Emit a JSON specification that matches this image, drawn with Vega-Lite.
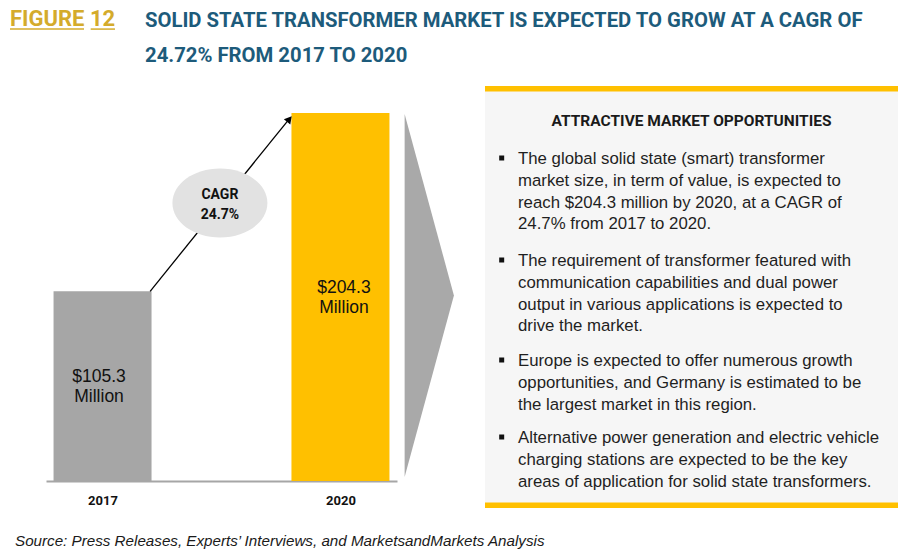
{
  "$schema": "https://vega.github.io/schema/vega-lite/v6.json",
  "width": 914,
  "height": 554,
  "autosize": {"type": "fit", "contains": "padding"},
  "padding": 0,
  "background": "#ffffff",
  "config": {"view": {"stroke": null}, "text": {"font": "Liberation Sans"}},
  "datasets": {
    "market": [
      {"year": 2017, "value": 105.3},
      {"year": 2020, "value": 204.3}
    ],
    "panel": [
      {"b": 0, "text": "ATTRACTIVE MARKET OPPORTUNITIES"},
      {"b": 1, "text": ["The global solid state (smart) transformer", "market size, in term of value, is expected to", "reach $204.3 million by 2020, at a CAGR of", "24.7% from 2017 to 2020."]},
      {"b": 2, "text": ["The requirement of transformer featured with", "communication capabilities and dual power", "output in various applications is expected to", "drive the market."]},
      {"b": 3, "text": ["Europe is expected to offer numerous growth", "opportunities, and Germany is estimated to be", "the largest market in this region."]},
      {"b": 4, "text": ["Alternative power generation and electric vehicle", "charging  stations are expected to be the key", "areas of application for solid state transformers."]}
    ]
  },
  "layer": [
    {
      "layer": [
        {
          "data": {"name": "market"},
          "mark": {"type": "bar", "width": 98},
          "encoding": {
            "x": {"field": "year", "type": "quantitative", "scale": {"domain": [2016.35, 2020.65], "range": [46, 397], "nice": false, "zero": false},
              "axis": {"title": null, "values": [2017, 2020], "format": "d", "ticks": false, "grid": false, "domainColor": "#a6a6a6", "domainWidth": 2, "labelFont": "Roboto", "labelFontWeight": "bold", "labelFontSize": 13, "labelColor": "#111111", "labelPadding": 13, "offset": -73, "labelFlush": false, "labelOverlap": false}},
            "y": {"field": "value", "type": "quantitative", "scale": {"domain": [0, 204.3], "range": [481, 113], "nice": false}, "axis": null},
            "color": {"field": "year", "type": "nominal", "scale": {"domain": [2017, 2020], "range": ["#a6a6a6", "#ffc000"]}, "legend": null}
          }
        },
        {
          "data": {"values": [{}]},
          "mark": {"type": "rule", "stroke": "#000000", "strokeWidth": 1.3},
          "encoding": {
            "x": {"datum": 2017.6, "type": "quantitative", "scale": {"domain": [2016.35, 2020.65], "range": [46, 397], "nice": false, "zero": false},
              "axis": {"title": null, "values": [2017, 2020], "format": "d", "ticks": false, "grid": false, "domainColor": "#a6a6a6", "domainWidth": 2, "labelFont": "Roboto", "labelFontWeight": "bold", "labelFontSize": 13, "labelColor": "#111111", "labelPadding": 13, "offset": -73, "labelFlush": false, "labelOverlap": false}},
            "y": {"datum": 105.3, "type": "quantitative", "scale": {"domain": [0, 204.3], "range": [481, 113], "nice": false}, "axis": null},
            "x2": {"datum": 2019.35},
            "y2": {"datum": 200.8}
          }
        },
        {
          "data": {"values": [{}]},
          "mark": {"type": "point", "shape": "triangle-up", "filled": true, "fill": "#000000", "opacity": 1, "size": 70, "angle": 40, "strokeWidth": 0},
          "encoding": {
            "x": {"datum": 2019.356, "type": "quantitative", "scale": {"domain": [2016.35, 2020.65], "range": [46, 397], "nice": false, "zero": false},
              "axis": {"title": null, "values": [2017, 2020], "format": "d", "ticks": false, "grid": false, "domainColor": "#a6a6a6", "domainWidth": 2, "labelFont": "Roboto", "labelFontWeight": "bold", "labelFontSize": 13, "labelColor": "#111111", "labelPadding": 13, "offset": -73, "labelFlush": false, "labelOverlap": false}},
            "y": {"datum": 200.9, "type": "quantitative", "scale": {"domain": [0, 204.3], "range": [481, 113], "nice": false}, "axis": null}
          }
        },
        {
          "data": {"values": [{}]},
          "mark": {"type": "point", "shape": "M 1 0 C 1 0.401 0.5523 0.726 0 0.726 C -0.5523 0.726 -1 0.401 -1 0 C -1 -0.401 -0.5523 -0.726 0 -0.726 C 0.5523 -0.726 1 -0.401 1 0 Z", "filled": true, "fill": "#e2e2e2", "opacity": 1, "size": 9025, "strokeWidth": 0},
          "encoding": {
            "x": {"datum": 2018.48, "type": "quantitative", "scale": {"domain": [2016.35, 2020.65], "range": [46, 397], "nice": false, "zero": false},
              "axis": {"title": null, "values": [2017, 2020], "format": "d", "ticks": false, "grid": false, "domainColor": "#a6a6a6", "domainWidth": 2, "labelFont": "Roboto", "labelFontWeight": "bold", "labelFontSize": 13, "labelColor": "#111111", "labelPadding": 13, "offset": -73, "labelFlush": false, "labelOverlap": false}},
            "y": {"datum": 154.3, "type": "quantitative", "scale": {"domain": [0, 204.3], "range": [481, 113], "nice": false}, "axis": null}
          }
        },
        {
          "data": {"values": [{}]},
          "mark": {"type": "text", "text": ["CAGR", "24.7%"], "align": "center", "baseline": "middle", "lineHeight": 20, "font": "Roboto", "fontWeight": "bold", "fontSize": 14, "color": "#111111"},
          "encoding": {
            "x": {"datum": 2018.48, "type": "quantitative", "scale": {"domain": [2016.35, 2020.65], "range": [46, 397], "nice": false, "zero": false},
              "axis": {"title": null, "values": [2017, 2020], "format": "d", "ticks": false, "grid": false, "domainColor": "#a6a6a6", "domainWidth": 2, "labelFont": "Roboto", "labelFontWeight": "bold", "labelFontSize": 13, "labelColor": "#111111", "labelPadding": 13, "offset": -73, "labelFlush": false, "labelOverlap": false}},
            "y": {"datum": 158.8, "type": "quantitative", "scale": {"domain": [0, 204.3], "range": [481, 113], "nice": false}, "axis": null}
          }
        },
        {
          "data": {"values": [{}]},
          "mark": {"type": "point", "shape": "M -0.1358 -1 L 0.1358 0 L -0.1358 1 Z", "filled": true, "fill": "#a9a9a9", "opacity": 1, "size": 131769, "strokeWidth": 0},
          "encoding": {
            "x": {"datum": 2021.12, "type": "quantitative", "scale": {"domain": [2016.35, 2020.65], "range": [46, 397], "nice": false, "zero": false},
              "axis": {"title": null, "values": [2017, 2020], "format": "d", "ticks": false, "grid": false, "domainColor": "#a6a6a6", "domainWidth": 2, "labelFont": "Roboto", "labelFontWeight": "bold", "labelFontSize": 13, "labelColor": "#111111", "labelPadding": 13, "offset": -73, "labelFlush": false, "labelOverlap": false}},
            "y": {"datum": 103.0, "type": "quantitative", "scale": {"domain": [0, 204.3], "range": [481, 113], "nice": false}, "axis": null}
          }
        }
      ]
    },
    {
      "data": {"name": "market"},
      "encoding": {
        "x": {"field": "year", "type": "quantitative", "scale": {"domain": [2016.35, 2020.65], "range": [46, 397], "nice": false, "zero": false}, "axis": null},
        "y": {"field": "value", "type": "quantitative", "scale": {"domain": [0, 408.6], "range": [481, 113], "nice": false}, "axis": null}
      },
      "layer": [
        {"mark": {"type": "text", "align": "center", "baseline": "middle", "dy": -9, "fontSize": 17.5, "color": "#111111"}, "encoding": {"text": {"field": "value", "type": "quantitative", "format": "$.1f"}}},
        {"mark": {"type": "text", "align": "center", "baseline": "middle", "dy": 11, "fontSize": 17.5, "color": "#111111", "text": "Million"}}
      ]
    },
    {
      "data": {"values": [{}]},
      "layer": [
        {"mark": {"type": "rect", "fill": "#f6f6f6"},
         "encoding": {
           "x": {"datum": 0, "type": "quantitative", "scale": {"domain": [0, 1], "range": [485, 898], "nice": false, "zero": false}, "axis": null},
           "x2": {"datum": 1},
           "y": {"datum": 0, "type": "quantitative", "scale": {"domain": [0, 1], "range": [86, 508], "nice": false, "zero": false}, "axis": null},
           "y2": {"datum": 1}}},
        {"mark": {"type": "rect", "fill": "#ffc000"},
         "encoding": {
           "x": {"datum": 0, "type": "quantitative", "scale": {"domain": [0, 1], "range": [485, 898], "nice": false, "zero": false}, "axis": null},
           "x2": {"datum": 1},
           "y": {"datum": 0, "type": "quantitative", "scale": {"domain": [0, 1], "range": [86, 508], "nice": false, "zero": false}, "axis": null},
           "y2": {"datum": 0.013}}},
        {"mark": {"type": "rect", "fill": "#ffc000"},
         "encoding": {
           "x": {"datum": 0, "type": "quantitative", "scale": {"domain": [0, 1], "range": [485, 898], "nice": false, "zero": false}, "axis": null},
           "x2": {"datum": 1},
           "y": {"datum": 0.987, "type": "quantitative", "scale": {"domain": [0, 1], "range": [86, 508], "nice": false, "zero": false}, "axis": null},
           "y2": {"datum": 1}}}
      ]
    },
    {
      "data": {"name": "panel"},
      "layer": [
        {"transform": [{"filter": "datum.b == 0"}],
         "mark": {"type": "text", "align": "center", "baseline": "alphabetic", "font": "Roboto", "fontWeight": "bold", "fontSize": 15.5, "color": "#1a1a1a"},
         "encoding": {
           "x": {"datum": 0.5, "type": "quantitative", "scale": {"domain": [0, 1], "range": [485, 898], "nice": false, "zero": false}, "axis": null},
           "y": {"field": "b", "type": "quantitative", "scale": {"domain": [0, 1, 2, 3, 4], "range": [126, 164, 266, 366, 443], "nice": false, "zero": false}, "axis": null},
           "text": {"field": "text"}}},
        {"transform": [{"filter": "datum.b > 0"}],
         "mark": {"type": "text", "align": "left", "baseline": "alphabetic", "fontSize": 16.8, "lineHeight": 21.8, "color": "#1f1f1f"},
         "encoding": {
           "x": {"datum": 0.0799, "type": "quantitative", "scale": {"domain": [0, 1], "range": [485, 898], "nice": false, "zero": false}, "axis": null},
           "y": {"field": "b", "type": "quantitative", "scale": {"domain": [0, 1, 2, 3, 4], "range": [126, 164, 266, 366, 443], "nice": false, "zero": false}, "axis": null},
           "text": {"field": "text"}}},
        {"transform": [{"filter": "datum.b > 0"}],
         "mark": {"type": "point", "shape": "square", "filled": true, "fill": "#111111", "opacity": 1, "size": 25, "strokeWidth": 0},
         "encoding": {
           "x": {"datum": 0.0404, "type": "quantitative", "scale": {"domain": [0, 1], "range": [485, 898], "nice": false, "zero": false}, "axis": null},
           "y": {"field": "b", "type": "quantitative", "scale": {"domain": [0, 1, 2, 3, 4], "range": [126, 164, 266, 366, 443], "nice": false, "zero": false}, "axis": null},
           "yOffset": {"value": -6}}}
      ]
    },
    {
      "data": {"values": [{}]},
      "layer": [
        {"mark": {"type": "text", "text": "FIGURE 12", "align": "left", "baseline": "alphabetic", "font": "Roboto", "fontWeight": "bold", "fontSize": 22, "color": "#d4ab2b"},
         "encoding": {
           "x": {"datum": 0.01094, "type": "quantitative", "scale": {"domain": [0, 1], "range": [0, 914], "nice": false, "zero": false}, "axis": null},
           "y": {"datum": 0.0478, "type": "quantitative", "scale": {"domain": [0, 1], "range": [0, 554], "nice": false, "zero": false}, "axis": null}}},
        {"mark": {"type": "rule", "stroke": "#d4ab2b", "strokeWidth": 1.5},
         "encoding": {
           "x": {"datum": 0.01094, "type": "quantitative", "scale": {"domain": [0, 1], "range": [0, 914], "nice": false, "zero": false}, "axis": null},
           "x2": {"datum": 0.0919},
           "y": {"datum": 0.0525, "type": "quantitative", "scale": {"domain": [0, 1], "range": [0, 554], "nice": false, "zero": false}, "axis": null}}},
        {"mark": {"type": "rule", "stroke": "#d4ab2b", "strokeWidth": 1.5},
         "encoding": {
           "x": {"datum": 0.0992, "type": "quantitative", "scale": {"domain": [0, 1], "range": [0, 914], "nice": false, "zero": false}, "axis": null},
           "x2": {"datum": 0.1258},
           "y": {"datum": 0.0525, "type": "quantitative", "scale": {"domain": [0, 1], "range": [0, 554], "nice": false, "zero": false}, "axis": null}}},
        {"mark": {"type": "text", "text": ["SOLID STATE TRANSFORMER MARKET IS EXPECTED TO GROW AT A CAGR OF", "24.72% FROM 2017 TO 2020"], "align": "left", "baseline": "alphabetic", "lineHeight": 35, "font": "Roboto", "fontWeight": "bold", "fontSize": 20.3, "color": "#1d5b7b"},
         "encoding": {
           "x": {"datum": 0.15864, "type": "quantitative", "scale": {"domain": [0, 1], "range": [0, 914], "nice": false, "zero": false}, "axis": null},
           "y": {"datum": 0.0487, "type": "quantitative", "scale": {"domain": [0, 1], "range": [0, 554], "nice": false, "zero": false}, "axis": null}}},
        {"mark": {"type": "text", "text": "Source: Press Releases, Experts’ Interviews, and MarketsandMarkets Analysis", "align": "left", "baseline": "alphabetic", "fontStyle": "italic", "fontSize": 15.2, "color": "#1a1a1a"},
         "encoding": {
           "x": {"datum": 0.01641, "type": "quantitative", "scale": {"domain": [0, 1], "range": [0, 914], "nice": false, "zero": false}, "axis": null},
           "y": {"datum": 0.9856, "type": "quantitative", "scale": {"domain": [0, 1], "range": [0, 554], "nice": false, "zero": false}, "axis": null}}}
      ]
    }
  ],
  "resolve": {"scale": {"x": "independent", "y": "independent"}}
}
